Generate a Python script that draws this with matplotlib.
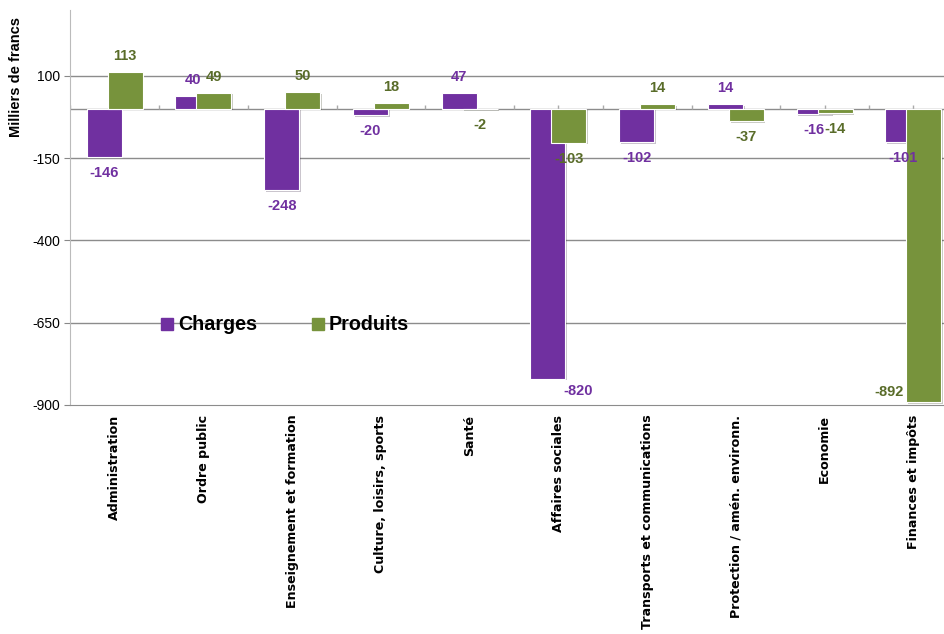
import numpy as np
import matplotlib
matplotlib.use("Agg")
import matplotlib.pyplot as plt
from matplotlib.lines import Line2D
import matplotlib.patheffects as pe

categories = ["Administration", "Ordre public", "Enseignement et formation",
              "Culture, loisirs, sports", "Santé", "Affaires sociales",
              "Transports et communications", "Protection / amén. environn.",
              "Economie", "Finances et impôts"]
charges = [-146, 40, -248, -20, 47, -820, -102, 14, -16, -101]
produits = [113, 49, 50, 18, -2, -103, 14, -37, -14, -892]
yticks = [100, -150, -400, -650, -900]

purple = "#7030A0"
green = "#77933C"
green_txt = "#596C29"

fig = plt.figure(figsize=(9.45, 6.34), dpi=100)
ax = fig.add_axes([70.25 / 945, 1 - 405 / 634, 887.5 / 945, 395 / 634])

x = np.arange(len(categories))
w = 0.394
off = 0.118
shadow = [pe.SimplePatchShadow(offset=(1.2, -1.2), alpha=0.25), pe.Normal()]

b1 = ax.bar(x - off, charges, w, color=purple, edgecolor="white", linewidth=0.8, zorder=3)
b2 = ax.bar(x + off, produits, w, color=green, edgecolor="white", linewidth=0.8, zorder=4)
for b in list(b1) + list(b2):
    b.set_path_effects(shadow)

ax.set_xlim(-0.5, len(categories) - 0.5)
ax.set_ylim(-900, 300)
ax.set_yticks(yticks)
ax.set_yticklabels([str(v) for v in yticks], fontsize=10, family="Liberation Sans")
ax.tick_params(axis="y", length=4, color="#888888", pad=3)
ax.set_xticks(x)
ax.set_xticklabels(categories, rotation=90, fontsize=9.1, fontweight="bold",
                   family="DejaVu Sans", va="top")
ax.tick_params(axis="x", length=0, pad=7)

for v in yticks[:-1]:
    ax.axhline(v, color="#8c8c8c", lw=1, zorder=1)
ax.axhline(0, color="#8c8c8c", lw=1, zorder=2)

# small tick marks on the zero line
tk = np.concatenate([x - 0.5, x])
ax.vlines(tk, 0, 12, color="#aaaaaa", lw=1, zorder=2)

for s in ["top", "right"]:
    ax.spines[s].set_visible(False)
ax.spines["left"].set_color("#bbbbbb")
ax.spines["bottom"].set_color("#8c8c8c")

# value labels (pixel offsets converted to points)
special = {(0, 5): (30, -12), (1, 9): (-35, 10)}
for si, (vals, col, dx) in enumerate([(charges, purple, -off), (produits, green_txt, off)]):
    for i, v in enumerate(vals):
        ox, oy = special.get((si, i), (0, 16 if v >= 0 else -16))
        ax.annotate(str(v), (i + dx, v), xytext=(ox * 0.72, oy * 0.72),
                    textcoords="offset points", ha="center", va="center",
                    fontsize=10.5, fontweight="bold", color=col,
                    family="Liberation Sans", zorder=6)

fig.text(16 / 945, 1 - 77 / 634, "Milliers de francs", rotation=90,
         ha="center", va="center", fontsize=10.5, fontweight="bold",
         family="Liberation Sans")

handles = [Line2D([], [], ls="none", marker="s", ms=8, color=purple),
           Line2D([], [], ls="none", marker="s", ms=8, color=green)]
fig.legend(handles, ["Charges", "Produits"], loc="center left",
           bbox_to_anchor=(161 / 945, 1 - 325 / 634), ncol=2, frameon=False,
           handlelength=0.6, handletextpad=0.25, columnspacing=2.8,
           borderpad=0, borderaxespad=0,
           prop={"family": "Liberation Sans", "weight": "bold", "size": 14.2})

fig.savefig("out.png", dpi=100)
